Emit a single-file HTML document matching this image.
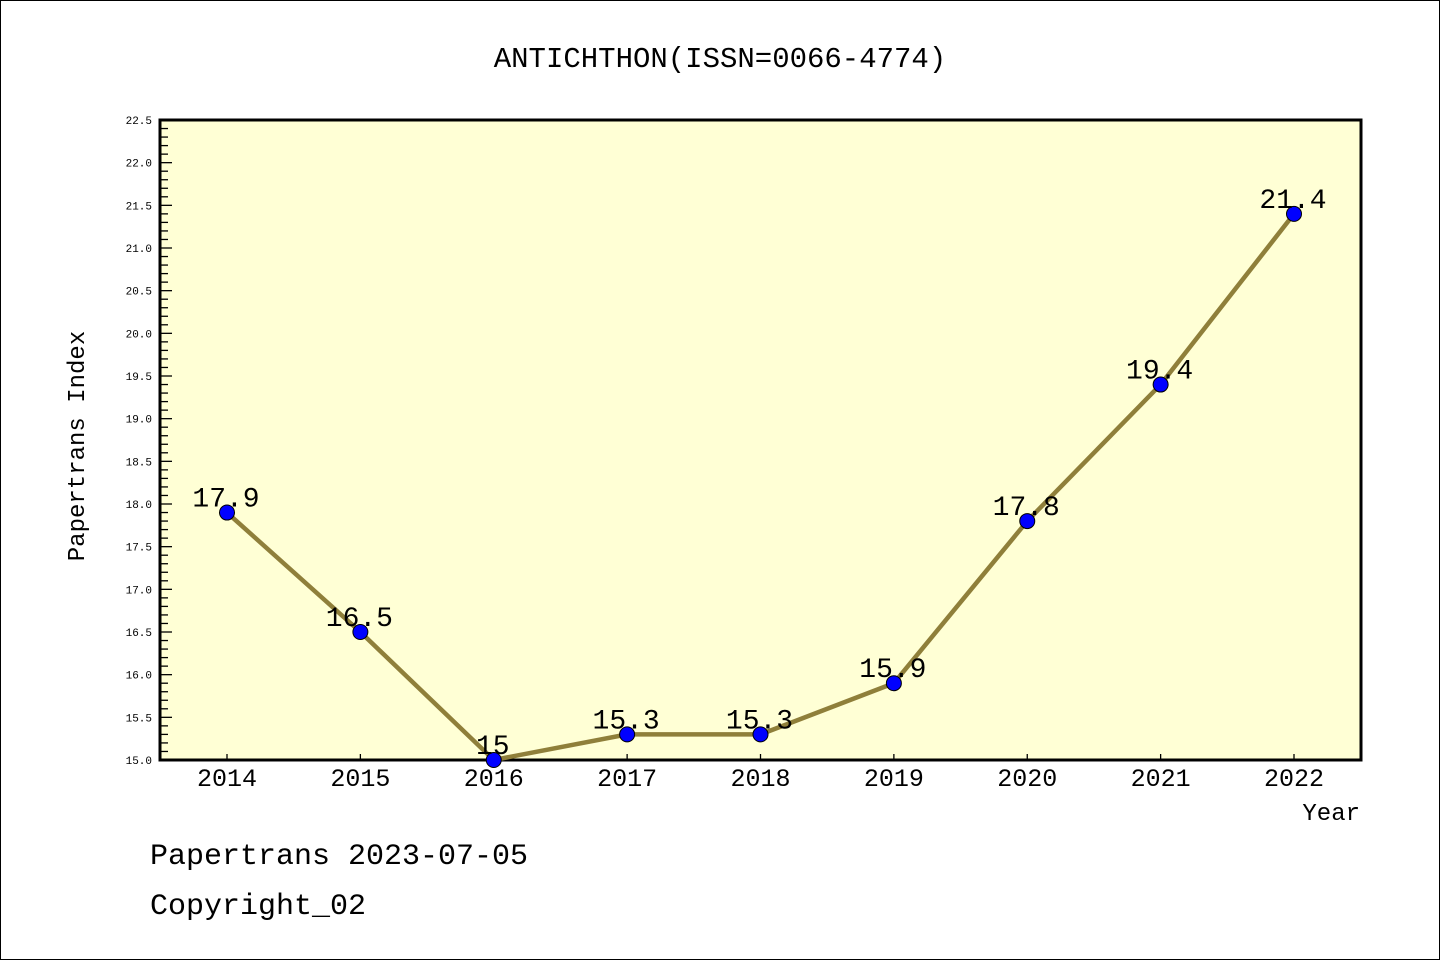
<!DOCTYPE html>
<html><head><meta charset="utf-8"><style>
html,body{margin:0;padding:0;background:#fff}
svg{display:block}
text{font-family:"Liberation Mono","DejaVu Sans Mono","Noto Sans CJK SC",monospace}
</style></head><body>
<svg id="chart" width="1440" height="960" xmlns="http://www.w3.org/2000/svg">
<rect x="0.5" y="0.5" width="1439" height="959" fill="#fff" stroke="#000"/>
<text x="720" y="67" text-anchor="middle" font-size="29">ANTICHTHON(ISSN=0066-4774)</text>
<rect x="160" y="120" width="1201" height="640" fill="#ffffd5"/>
<g id="yticks"></g>
<g id="xticks"></g>
<rect x="160" y="120" width="1201" height="640" fill="none" stroke="#000" stroke-width="3"/>
<g id="series"></g>
<text transform="translate(84,446) rotate(-90)" text-anchor="middle" font-size="24">Papertrans Index</text>
<text x="1360" y="820" text-anchor="end" font-size="24">Year</text>
<text x="150" y="864" font-size="30">Papertrans 2023-07-05</text>
<text x="150" y="914" font-size="30">Copyright_02</text>
</svg>
<script>
const years = [2014,2015,2016,2017,2018,2019,2020,2021,2022];
const values = [17.9,16.5,15,15.3,15.3,15.9,17.8,19.4,21.4];
const valueLabels = ["17.9","16.5","15","15.3","15.3","15.9","17.8","19.4","21.4"];
const yMin = 15.0, yMax = 22.5;
const NS = "http://www.w3.org/2000/svg";
function yPos(v){ return 760 - (v - yMin) / (yMax - yMin) * 640; }
function xPos(i){ return 227 + i * (1294 - 227) / (years.length - 1); }
function mk(tag, attrs, parent){ const e = document.createElementNS(NS, tag); for (const k in attrs) e.setAttribute(k, attrs[k]); parent.appendChild(e); return e; }
const yg = document.getElementById('yticks');
for (let k = 0; k <= 75; k++) {
  const v = yMin + k * 0.1, y = yPos(v), major = k % 5 === 0;
  const t = mk('line', {x1:160, x2:160 + (major ? 12 : 8), y1:y, y2:y, stroke:'#000', 'stroke-width':1.3}, yg);
  
  
  if (major) {
    const l = mk('text', {x:152, y:y + 4, 'text-anchor':'end', 'font-size':11, 'font-family':'DejaVu Sans, sans-serif'}, yg);
    l.textContent = v.toFixed(1);
    
    
  }
}
const xg = document.getElementById('xticks');
years.forEach((yr, i) => {
  const x = xPos(i);
  const t = mk('line', {x1:x, x2:x, y1:760, y2:754, stroke:'#000', 'stroke-width':1.3}, xg);
  
  
  const l = mk('text', {x:x, y:786, 'text-anchor':'middle', 'font-size':25, 'font-family':'DejaVu Sans, sans-serif'}, xg);
  l.textContent = yr;
  
  
});
const sg = document.getElementById('series');
const line = mk('polyline', {points: values.map((v, i) => xPos(i) + ',' + yPos(v)).join(' '), fill:'none', stroke:'#8f7f3a', 'stroke-width':4.5}, sg);


values.forEach((v, i) => {
  const c = mk('circle', {cx:xPos(i), cy:yPos(v), r:7.5, fill:'#0000ff', stroke:'#000', 'stroke-width':1}, sg);
  
  
  const l = mk('text', {x:xPos(i) - 1, y:yPos(v) - 6, 'text-anchor':'middle', 'font-size':28, 'font-family':'DejaVu Sans, sans-serif'}, sg);
  l.textContent = valueLabels[i];
  
  
});
</script>
</body></html>
